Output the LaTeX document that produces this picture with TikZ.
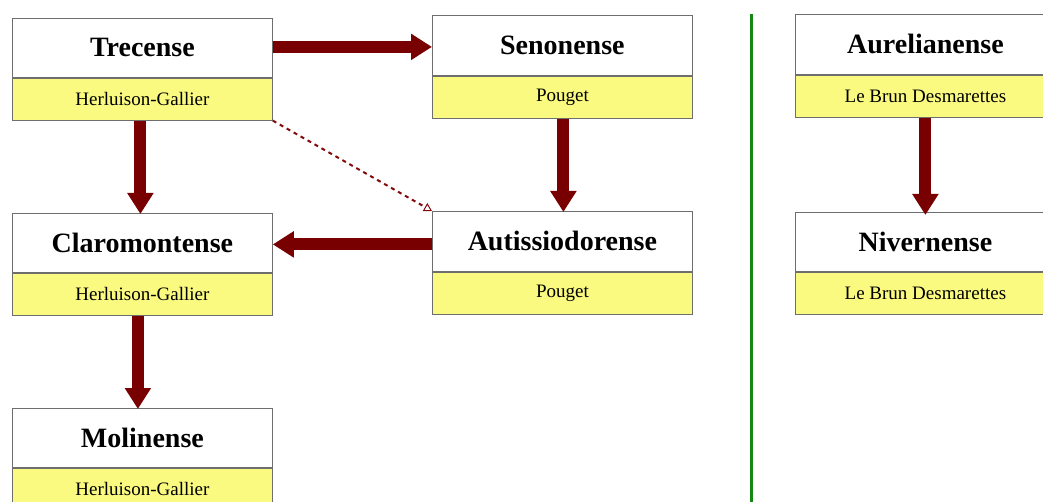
\documentclass[tikz,border=0pt]{standalone}
\usepackage{fontspec}
\setmainfont{Liberation Serif}
\usetikzlibrary{arrows.meta}
\definecolor{boxyellow}{RGB}{250,250,128}
\definecolor{arrred}{RGB}{120,0,0}
\definecolor{dashred}{RGB}{130,10,10}
\definecolor{divgreen}{RGB}{20,135,20}
\definecolor{boxedge}{RGB}{110,110,110}
\tikzset{
  titlebox/.style={draw=boxedge, line width=0.8pt, fill=white, minimum width=260pt,
    minimum height=59pt, anchor=north west, inner sep=0pt,
    font=\fontsize{28}{32}\selectfont\bfseries},
  namebox/.style={draw=boxedge, line width=0.8pt, fill=boxyellow, minimum width=260pt,
    minimum height=42pt, anchor=north west, inner sep=0pt,
    font=\fontsize{19}{22}\selectfont},
  bigarrow/.style={draw=arrred, line width=12pt, -{Triangle[width=25pt,length=21pt]}},
  linkarrow/.style={draw=dashred, line width=2pt, dash pattern=on 4pt off 4pt,
    -{Triangle[open,width=9pt,length=8pt,line width=1pt]}},
  divider/.style={draw=divgreen, line width=3pt}
}
\begin{document}
\begin{tikzpicture}[x=1pt,y=-1pt]
\clip (0,0) rectangle (1043,502);
\useasboundingbox (0,0) rectangle (1043,502);
% boxes
\node[titlebox] (tre) at (12,18) {Trecense};
\node[namebox] (treb) at (tre.south west) {Herluison-Gallier};
\node[titlebox, minimum height=60pt] (sen) at (432,15) {Senonense};
\node[namebox] (senb) at (sen.south west) {Pouget};
\node[titlebox] (cla) at (12,213) {Claromontense};
\node[namebox] (clab) at (cla.south west) {Herluison-Gallier};
\node[titlebox, minimum height=60pt] (aut) at (432,211) {Autissiodorense};
\node[namebox] (autb) at (aut.south west) {Pouget};
\node[titlebox] (mol) at (12,408) {Molinense};
\node[namebox] (molb) at (mol.south west) {Herluison-Gallier};
\node[titlebox, minimum height=60pt] (aur) at (795,14) {Aurelianense};
\node[namebox] (aurb) at (aur.south west) {Le Brun Desmarettes};
\node[titlebox] (niv) at (795,212) {Nivernense};
\node[namebox] (nivb) at (niv.south west) {Le Brun Desmarettes};
% divider
\coordinate (gtop) at (751,14);
\coordinate (gbot) at (751,505);
\draw[divider] (gtop) -- (gbot);
% arrows
\draw[bigarrow] ([yshift=1pt]tre.east) -- ([yshift=1pt]tre.east -| sen.west);
\draw[bigarrow] ([xshift=-2pt]treb.south) -- ([xshift=-2pt,yshift=-1pt]cla.north);
\draw[bigarrow] ([xshift=1pt]senb.south) -- ([xshift=1pt,yshift=-1pt]aut.north);
\draw[bigarrow] ([yshift=-3pt]aut.west) -- ([yshift=-3pt]aut.west -| cla.east);
\draw[bigarrow] ([xshift=-4.5pt]clab.south) -- ([xshift=-4.5pt,yshift=-1pt]mol.north);
\draw[bigarrow] (aurb.south) -- ([yshift=-3pt]niv.north);
\draw[linkarrow] (treb.south east) -- (aut.north west);
\end{tikzpicture}
\end{document}
